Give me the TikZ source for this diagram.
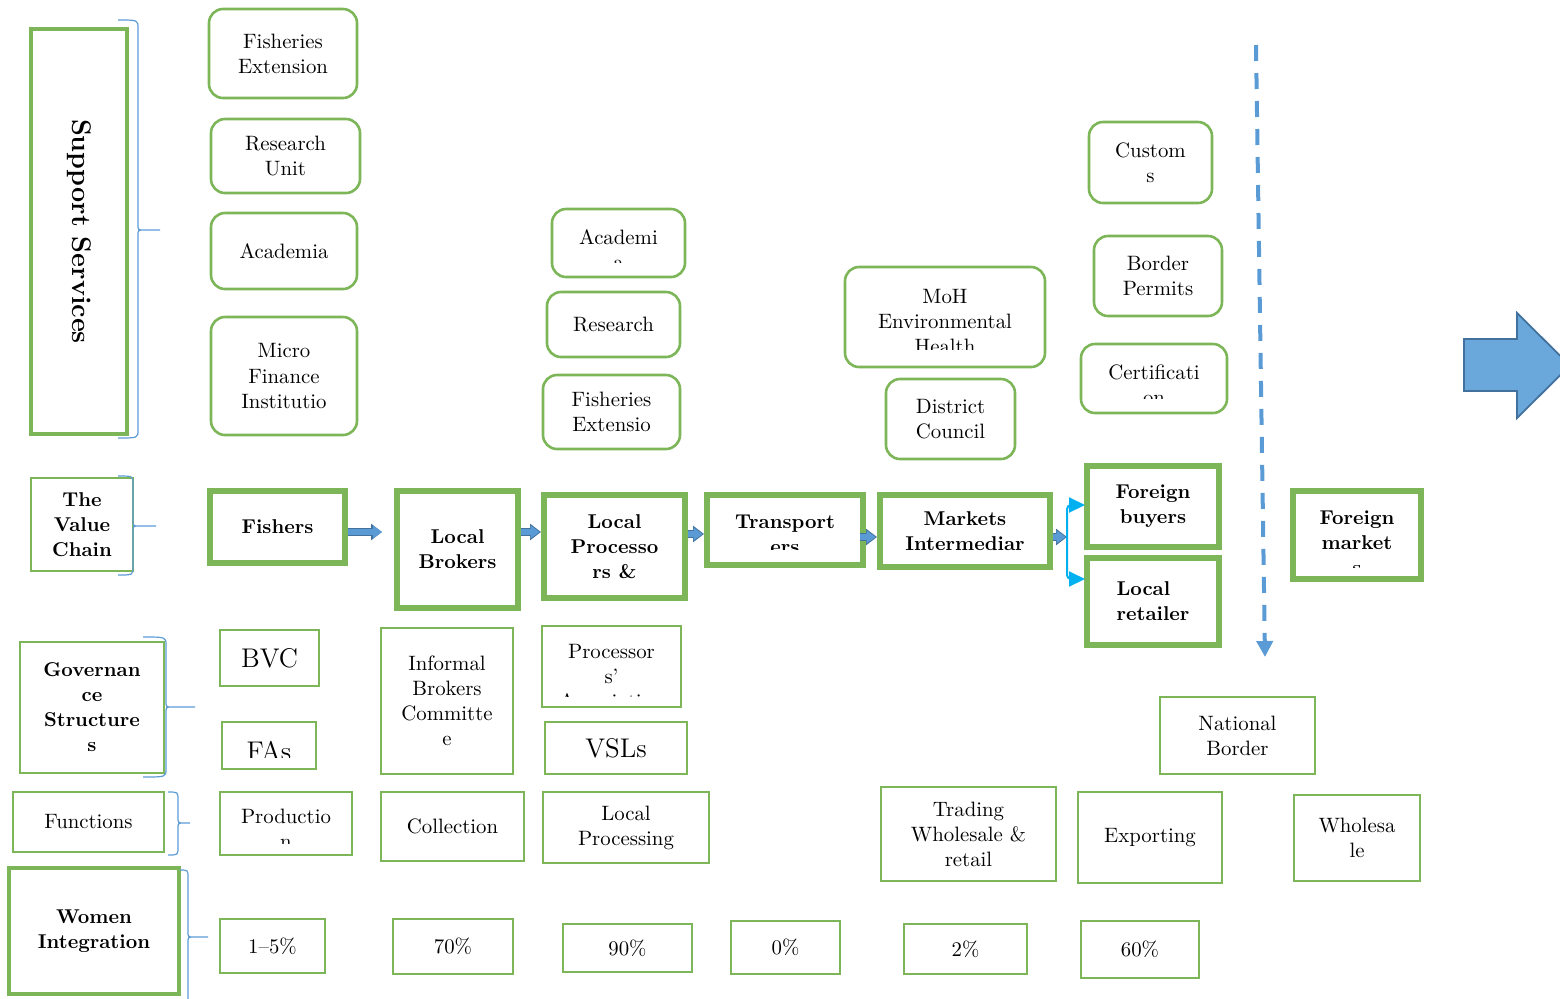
\documentclass[tikz,border=0pt]{standalone}
\usetikzlibrary{arrows.meta}
\definecolor{vgreen}{HTML}{7DB658}
\definecolor{vblue}{HTML}{5B9BD5}
\definecolor{vlblue}{HTML}{6AA8DB}
\definecolor{vdblue}{HTML}{41719C}
\definecolor{vcyan}{HTML}{00B0F0}
\newcommand\rtext{\fontsize{10.4}{12.5}\selectfont}
\newcommand\btext{\fontsize{10}{12.5}\selectfont\bfseries}
\newcommand\bigtext{\fontsize{13.5}{16}\selectfont}
\newcommand\bx[7]{\node[#1, minimum width={(#5-#3)*0.5pt}, minimum height={(#6-#4)*0.5pt}] (#2) at ({(#3+#5)/2},{(#4+#6)/2}) {#7};}
\newcommand\clbx[9]{%
  \node[#1, minimum width={(#5-#3)*0.5pt}, minimum height={(#6-#4)*0.5pt}] (#2) at ({(#3+#5)/2},{(#4+#6)/2}) {};
  \begin{scope}\clip (#3,#4) rectangle (#5,#7);
  \node[#1, draw=none, minimum width=0pt, minimum height=0pt] (#2-t) at ({(#3+#5)/2},#8) {#9};
  \end{scope}}
\newcommand\rbr[6]{\draw[brace] (#1,#4) .. controls (#2,#4) .. (#2,#4+8) -- (#2,#5-6) .. controls (#2,#5) .. (#2+6,#5) -- (#3,#5) -- (#2+6,#5) .. controls (#2,#5) .. (#2,#5+6) -- (#2,#6-8) .. controls (#2,#6) .. (#1,#6);}
\newcommand\vcarr[3][]{%
  \draw[vdblue, line width=4.2pt, -{Triangle[length=5.5pt,width=8pt]}, #1] #2 -- #3;
  \draw[vblue, line width=2.6pt, -{Triangle[length=4.5pt,width=6.2pt]}, shorten >=0.7pt, #1] #2 -- #3;}
\begin{document}
\begin{tikzpicture}[x=0.5pt,y=-0.5pt,
 base/.style={draw=vgreen, inner sep=0pt, align=center, font=\rtext},
 rbox/.style={base, rounded corners=7pt, line width=1.3pt},
 thickbox/.style={base, line width=3pt, font=\btext},
 thinbox/.style={base, line width=1pt},
 lblbox/.style={base, line width=1.1pt, font=\btext},
 pctbox/.style={base, line width=1.2pt},
 brace/.style={draw=vblue, line width=0.6pt},
 cyanarrow/.style={draw=vcyan, line width=1pt, rounded corners=2pt, -{Triangle[length=8pt,width=7.5pt]}},
 dashline/.style={draw=vblue, line width=2pt, dash pattern=on 8pt off 6pt, -{Triangle[length=8pt,width=8pt]}},
]
\useasboundingbox (0,0) rectangle (1560,998);
\clip (0,0) rectangle (1560,998);

% ---- Support services
\node[lblbox, line width=1.6pt, rotate=-90, minimum width=202.5pt, minimum height=48pt, font=\fontsize{13.5}{16}\selectfont\bfseries] (supp) at (79,231.5) {Support Services};
\rbr{118}{138}{160}{20}{230}{438}
\bx{rbox}{fe1}{209}{9}{357}{98}{Fisheries\\Extension}
\bx{rbox}{ru1}{211}{119}{360}{193}{Research\\Unit}
\bx{rbox}{ac1}{211}{213}{357}{289}{Academia}
\bx{rbox}{mfi}{211}{317}{357}{435}{Micro\\Finance\\Institutio}
\clbx{rbox}{ac2}{552}{209}{685}{277}{262}{249.5}{Academi\\a}
\bx{rbox}{re2}{547}{292}{680}{357}{Research}
\bx{rbox}{fe2}{543}{375}{680}{449}{Fisheries\\Extensio}
\clbx{rbox}{moh}{845}{267}{1045}{367}{349}{321.7}{MoH\\Environmental\\Health}
\bx{rbox}{dc}{886}{379}{1015}{459}{District\\Council}
\bx{rbox}{cus}{1089}{122}{1212}{203}{Custom\\s}
\bx{rbox}{bp}{1094}{236}{1222}{316}{Border\\Permits}
\clbx{rbox}{cert}{1081}{344}{1227}{413}{398}{384.5}{Certificati\\on}

% ---- dashed border line and big arrow
\coordinate (dtop) at (1256,45);
\coordinate (dbot) at (1265,657);
\draw[dashline] (dtop) -- (dbot);
\draw[fill=vlblue, draw=vdblue, line width=0.9pt] (1464,339) -- (1517,339) -- (1517,313) -- (1570,365.5) -- (1517,418) -- (1517,391) -- (1464,391) -- cycle;

% ---- value chain
\bx{lblbox}{tvc}{31}{478}{133}{571}{The\\Value\\Chain}
\rbr{118}{133}{156}{476}{526}{575}
\bx{thickbox}{fish}{210}{491}{345}{563}{Fishers}
\bx{thickbox}{lb}{397}{491}{518}{608}{Local\\Brokers}
\bx{thickbox}{lp}{544}{495}{685}{598}{Local\\Processo\\rs \&}
\clbx{thickbox}{tr}{707}{495}{863}{565}{549}{534.5}{Transport\\ers}
\bx{thickbox}{mi}{880}{495}{1050}{567}{Markets\\Intermediar}
\bx{thickbox}{fb}{1087}{466}{1219}{547}{Foreign\\buyers}
\bx{thickbox, align=left}{lr}{1087}{558}{1219}{645}{Local\\retailer}
\clbx{thickbox}{fm}{1293}{491}{1421}{579}{567}{543}{Foreign\\market\\s}

\vcarr[shorten >=6pt]{(fish.east |- 0,532)}{(lb.west |- 0,532)}
\vcarr{(lb.east |- 0,532)}{(lp.west |- 0,532)}
\vcarr{(lp.east |- 0,534)}{(tr.west |- 0,534)}
\vcarr[shorten <=-3pt]{(tr.east |- 0,537)}{(mi.west |- 0,537)}
\coordinate (junc) at (1067,537);
\vcarr{(mi.east |- 0,537)}{(junc)}
\coordinate (fbin) at (1085,505);
\coordinate (lrin) at (1085,579);
\draw[cyanarrow] (junc) |- (fbin);
\draw[cyanarrow] (junc) |- (lrin);

% ---- governance
\bx{thinbox, font=\btext}{gov}{20}{642}{164}{773}{Governan\\ce\\Structure\\s}
\rbr{143}{166}{195}{637}{707}{777}
\bx{thinbox, font=\bigtext}{bvc}{220}{630}{319}{686}{BVC}
\clbx{thinbox, font=\bigtext}{fas}{222}{722}{316}{769}{757}{751}{FAs}
\bx{thinbox}{ibc}{381}{628}{513}{774}{Informal\\Brokers\\Committe\\e}
\clbx{thinbox}{pa}{542}{626}{681}{707}{696}{676}{Processor\\s'\\Association}
\bx{thinbox, font=\bigtext}{vsl}{545}{722}{687}{774}{VSLs}
\bx{thinbox}{nb}{1160}{697}{1315}{774}{National\\Border}

% ---- functions
\bx{thinbox}{fun}{13}{792}{164}{852}{Functions}
\rbr{168}{178}{190}{792}{823}{855}
\clbx{thinbox}{prod}{220}{792}{352}{855}{843}{828.5}{Productio\\n}
\bx{thinbox}{col}{381}{792}{524}{861}{Collection}
\bx{thinbox}{lpf}{543}{792}{709}{863}{Local\\Processing}
\bx{thinbox}{twr}{881}{787}{1056}{881}{Trading\\Wholesale \&\\retail}
\bx{thinbox}{exp}{1078}{792}{1222}{883}{Exporting}
\bx{thinbox}{who}{1294}{795}{1420}{881}{Wholesa\\le}

% ---- women integration
\bx{lblbox, line width=1.6pt}{wi}{9}{868}{179}{994}{Women\\Integration}
\rbr{180}{188}{208}{870}{937}{1012}
\bx{pctbox}{p1}{220}{919}{325}{973}{1--5\%}
\bx{pctbox}{p2}{393}{919}{513}{974}{70\%}
\bx{pctbox}{p3}{563}{924}{692}{972}{90\%}
\bx{pctbox}{p4}{731}{921}{840}{974}{0\%}
\bx{pctbox}{p5}{904}{924}{1027}{974}{2\%}
\bx{pctbox}{p6}{1081}{921}{1199}{978}{60\%}
\end{tikzpicture}
\end{document}
